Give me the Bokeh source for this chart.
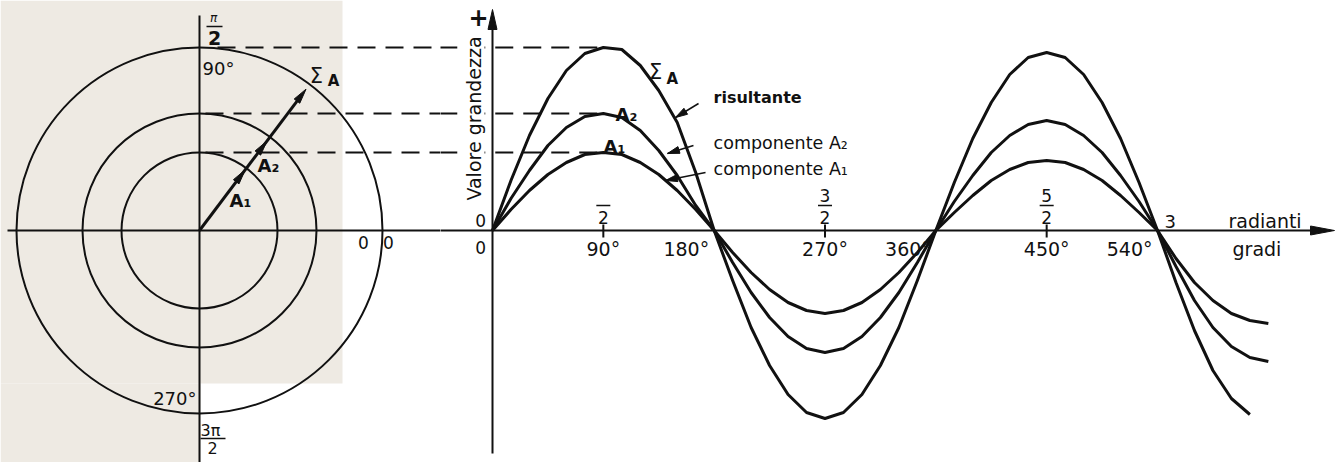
import math
from bokeh.plotting import figure
from bokeh.layouts import row
from bokeh.models import Range1d, Label
from bokeh.core.properties import value
from bokeh.embed import file_html
from bokeh.resources import INLINE

# ---------------- data ----------------
gradi = list(range(0, 616, 15))          # x for the resultant
gradi_comp = list(range(0, 631, 15))     # x for the two components
risultante = [0, 50, 95, 132, 160, 177, 183, 181, 165, 140, 108, 58, 0,
              -50, -97, -135, -164, -182, -188, -182, -164, -135, -97, -50, 0,
              48, 92, 128, 156, 173, 178, 173, 156, 128, 92, 48, 0,
              -52, -100, -140, -168, -184]
componente_a2 = [0, 32, 60, 85, 103, 114, 117, 113, 100, 80, 55, 25, 0,
                 -32, -62, -87, -106, -118, -122, -118, -106, -87, -62, -32, 0,
                 29, 55, 78, 95, 106, 110, 106, 95, 78, 55, 29, 0,
                 -36, -70, -97, -116, -127, -131]
componente_a1 = [0, 21, 40, 56, 68, 76, 78, 76, 68, 56, 40, 21, 0,
                 -22, -42, -59, -72, -80, -83, -80, -72, -59, -42, -22, 0,
                 18, 35, 50, 61, 68, 70, 68, 61, 50, 35, 18, 0,
                 -28, -52, -70, -83, -90, -93]
ampiezze = [78, 117, 183]              # A1, A2, ΣA  (circle radii / peaks)
fasore_angolo = 53                     # degrees
fasore_moduli = [76, 112, 177]         # arrow tips A1, A2, ΣA
tacche = [90, 270, 450]
gradi_etichette = [90, 180, 270, 360, 450, 540]
testi_gradi = ["90°", "180°", "270°", "360°", "450°", "540°"]
numeratori = ["", "3", "5"]
denominatori = ["2", "2", "2"]

FONT_NAME = "DejaVu Sans"
FONT = value(FONT_NAME)
INK = "#111111"
BEIGE = "#eeeae3"

# ---------------- geometry of the page ----------------
H = 462
WL, WR = 440, 895
PXDEG = 1.2315          # pixels per degree in the wave panel
Y_TOP = 230
Y_BOT = Y_TOP - H
XL0 = -199
XR0 = -52 / PXDEG
XR1 = XR0 + WR / PXDEG


def head(xt, yt, ang, L, W, kx):
    ca, sa = math.cos(ang), math.sin(ang)
    bx, by = -L * ca, -L * sa
    px, py = -sa * W / 2, ca * W / 2
    xs = [xt, xt + (bx + px) * kx, xt + (bx - px) * kx]
    ys = [yt, yt + by + py, yt + by - py]
    return xs, ys


def txt(p, x, y, t, size, align="center", bold=False, italic=False, angle=0):
    style = "bold" if bold else ("italic" if italic else "normal")
    p.text(x=[x], y=[y], text=[t], text_font=FONT, text_font_size=f"{size}px",
           text_font_style=style, text_align=align, text_baseline="middle",
           text_color=INK, angle=angle)


# ================= left panel: phasor diagram =================
pl = figure(width=WL, height=H, output_backend="svg", toolbar_location=None,
            x_range=Range1d(XL0, XL0 + WL), y_range=Range1d(Y_BOT, Y_TOP),
            x_axis_type=None, y_axis_type=None, min_border=0)
pl.grid.visible = False
pl.outline_line_color = None
pl.background_fill_color = "white"

pl.quad(left=[XL0, XL0], right=[143, 1], top=[Y_TOP, -153], bottom=[-153, Y_BOT],
        fill_color=BEIGE, line_color=None)

pl.circle(x=[0] * 3, y=[0] * 3, radius=ampiezze, fill_color=None,
          line_color=INK, line_width=2)
pl.line([-192, XL0 + WL + 1], [0, 0], line_color=INK, line_width=2)
pl.line([0, 0], [215, Y_BOT - 5], line_color=INK, line_width=2)

pl.segment(x0=[18, 6, 6], y0=ampiezze[::-1], x1=[XL0 + WL + 1] * 3, y1=ampiezze[::-1],
           line_color=INK, line_width=2, line_dash="18 10")

a = math.radians(fasore_angolo)
rmax = fasore_moduli[-1]
pl.line([0, (rmax - 8) * math.cos(a)], [0, (rmax - 8) * math.sin(a)],
        line_color=INK, line_width=3)
for r in fasore_moduli:
    xs, ys = head(r * math.cos(a), r * math.sin(a), a, 15, 7, 1)
    pl.patch(xs, ys, fill_color=INK, line_color=INK, line_width=1)

txt(pl, 14, 213, "π", 12, italic=True)
pl.segment(x0=[7], y0=[204], x1=[23], y1=[204], line_color=INK, line_width=1.5)
txt(pl, 15, 193, "2", 19, bold=True)
txt(pl, 3, 162, "90°", 18, align="left")
txt(pl, 117, 155, "Σ", 21)
txt(pl, 134, 150, "A", 15, bold=True)
txt(pl, 58, 65, "A₂", 18, align="left", bold=True)
txt(pl, 30, 30, "A₁", 18, align="left", bold=True)
txt(pl, 164, -12, "0", 17)
txt(pl, 189, -12, "0", 17)
txt(pl, -3, -168, "270°", 18, align="right")
txt(pl, 1, -200, "3π", 16, align="left")
pl.segment(x0=[1], y0=[-208], x1=[26], y1=[-208], line_color=INK, line_width=1.5)
txt(pl, 13, -217, "2", 16)

# ================= right panel: waves =================
pr = figure(width=WR, height=H, output_backend="svg", toolbar_location=None,
            x_range=Range1d(XR0, XR1), y_range=Range1d(Y_BOT, Y_TOP),
            x_axis_type=None, y_axis_type=None, min_border=0)
pr.grid.visible = False
pr.outline_line_color = None
pr.background_fill_color = "white"
KX = 1 / PXDEG

# dashed guides continuing from the phasor diagram
pr.segment(x0=[XR0 - 1] * 3, y0=ampiezze, x1=[92, 88, 90], y1=ampiezze,
           line_color=INK, line_width=2, line_dash="18 10")

# y-axis title with a white backing (the dashes break around it)
pr.add_layout(Label(x=-15.4, y=112, text="Valore grandezza", angle=math.pi / 2,
                    text_font=FONT_NAME, text_font_size="19px", text_color=INK,
                    text_align="center", text_baseline="middle",
                    background_fill_color="white", background_fill_alpha=1.0))

# axes
x_tip = XR1 - 1 * KX
pr.line([XR0 - 1, x_tip - 10 * KX], [0, 0], line_color=INK, line_width=2)
xs, ys = head(x_tip, 0, 0, 24, 9, KX)
pr.patch(xs, ys, fill_color=INK, line_color=INK)
pr.line([0, 0], [Y_BOT + 9, 205], line_color=INK, line_width=2)
xs, ys = head(0, 221, math.pi / 2, 20, 9, KX)
pr.patch(xs, ys, fill_color=INK, line_color=INK)

# curves
pr.line(gradi_comp, componente_a1, line_color=INK, line_width=3, line_join="round")
pr.line(gradi_comp, componente_a2, line_color=INK, line_width=3, line_join="round")
pr.line(gradi, risultante, line_color=INK, line_width=3, line_join="round")

# ticks and labels
pr.segment(x0=tacche, y0=[6] * 3, x1=tacche, y1=[-7] * 3, line_color=INK, line_width=2)
for g, t in zip(gradi_etichette, testi_gradi):
    if g in tacche:
        pr.text(x=[g], y=[-18], text=[t], text_font=FONT, text_font_size="19px",
                text_align="center", text_baseline="middle", text_color=INK)
    else:
        pr.text(x=[g], y=[-18], text=[t], text_font=FONT, text_font_size="19px",
                text_align="right", text_baseline="middle", text_color=INK,
                x_offset=-5)
for g, n, d in zip(tacche, numeratori, denominatori):
    if n:
        txt(pr, g, 35, n, 17)
    pr.segment(x0=[g - 7 * KX], y0=[25], x1=[g + 7 * KX], y1=[25],
               line_color=INK, line_width=1.5)
    txt(pr, g, 13, d, 17)
pr.text(x=[540], y=[9], text=["3"], text_font=FONT, text_font_size="18px",
        text_align="left", text_baseline="middle", text_color=INK, x_offset=7)
txt(pr, -9.7, 10, "0", 17)
txt(pr, -9.7, -17, "0", 17)
txt(pr, 597.6, 10, "radianti", 19, align="left")
txt(pr, 600.9, -18, "gradi", 19, align="left")
txt(pr, -11.4, 214, "+", 24, bold=True)

# curve labels
txt(pr, 132.4, 159, "Σ", 21)
txt(pr, 146.0, 152, "A", 15, bold=True)
txt(pr, 99.9, 116, "A₂", 18, align="left", bold=True)
txt(pr, 90.1, 84, "A₁", 18, align="left", bold=True)
txt(pr, 179.5, 133, "risultante", 16, align="left", bold=True)
txt(pr, 179.5, 88, "componente A₂", 17.5, align="left")
txt(pr, 179.5, 62, "componente A₁", 17.5, align="left")

# pointer arrows to the curves
for (x0, y0, x1, y1) in [(167.3, 127, 148.6, 113), (163.2, 85, 142.1, 77), (173.0, 58, 140.5, 50)]:
    pr.line([x0, x1], [y0, y1], line_color=INK, line_width=1.5)
    ang = math.atan2(y1 - y0, (x1 - x0) * PXDEG)
    xs, ys = head(x1, y1, ang, 12, 7, KX)
    pr.patch(xs, ys, fill_color=INK, line_color=INK)

layout = row(pl, pr, spacing=0)
open("out.html", "w").write(file_html(layout, INLINE))
